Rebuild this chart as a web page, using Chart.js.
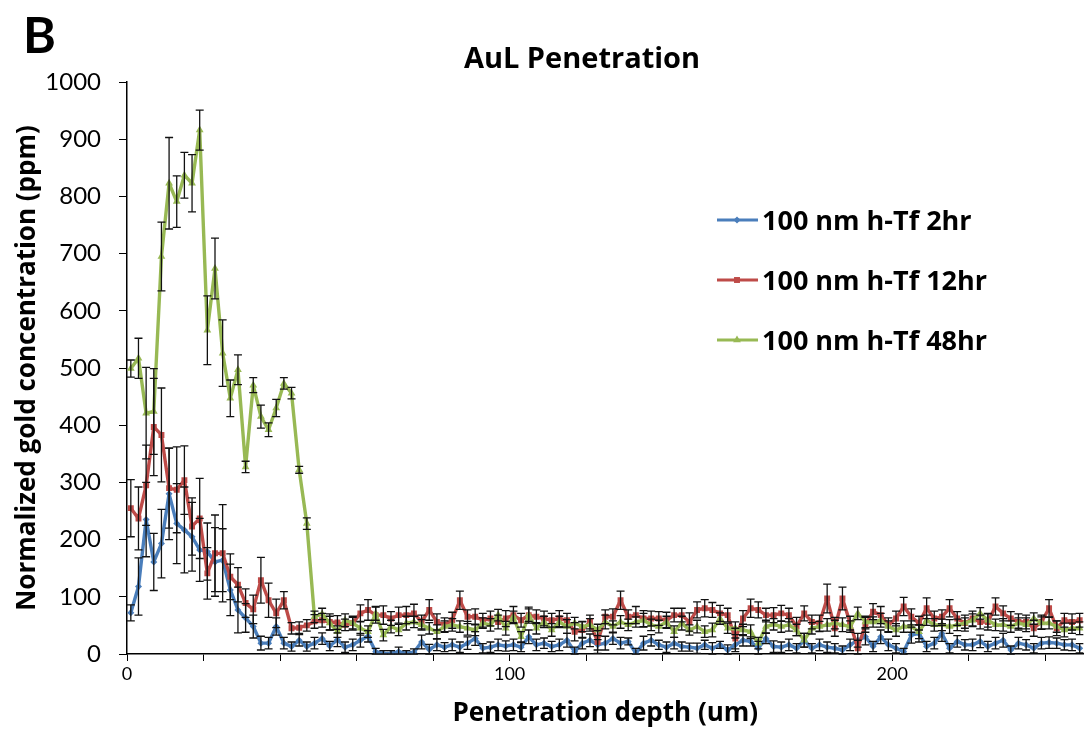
<!DOCTYPE html>
<html>
<head>
<meta charset="utf-8">
<title>AuL Penetration</title>
<script src="https://cdn.jsdelivr.net/npm/chart.js@4.4.0/dist/chart.umd.min.js"></script>
<style>
  body { margin: 0; background: #fff; }
  canvas { display: block; }
</style>
</head>
<body>
<canvas id="penetrationChart" width="1088" height="731"></canvas>
<script>
// depth of each 2 um slice (bin centre), um
const depth = [1,3,5,7,9,11,13,15,17,19,21,23,25,27,29,31,33,35,37,39,41,43,45,47,49,
  51,53,55,57,59,61,63,65,67,69,71,73,75,77,79,81,83,85,87,89,91,93,95,97,99,
  101,103,105,107,109,111,113,115,117,119,121,123,125,127,129,131,133,135,137,139,141,143,145,147,149,
  151,153,155,157,159,161,163,165,167,169,171,173,175,177,179,181,183,185,187,189,191,193,195,197,199,
  201,203,205,207,209,211,213,215,217,219,221,223,225,227,229,231,233,235,237,239,241,243,245,247,249];

const seriesLabels = ['100 nm h-Tf 2hr', '100 nm h-Tf 12hr', '100 nm h-Tf 48hr'];

// gold concentration (ppm)
const tf2hr = [72,118,235,161,193,280,228,217,205,182,179,161,164,112,77,63,48,19,19,48,19,13,24,13,19,
  27,14,25,12,16,24,31,4,1,1,4,1,3,21,8,16,12,16,12,19,27,10,12,16,14,
  16,12,30,16,19,13,16,24,4,19,24,16,19,27,19,22,1,19,24,16,12,19,13,12,10,
  16,10,16,7,16,24,22,10,27,13,12,16,10,24,10,16,12,10,7,16,24,30,13,30,16,
  10,4,33,36,13,19,36,10,22,16,16,22,13,19,24,7,19,16,10,19,20,19,16,16,10];

const tf12hr = [255,237,295,397,383,290,287,304,223,237,141,176,176,135,121,89,78,129,94,71,94,45,46,50,57,
  59,56,55,51,54,71,77,68,68,62,68,68,71,56,77,56,51,59,94,65,65,59,62,56,62,
  68,59,68,65,62,59,62,59,39,42,56,21,65,65,94,65,68,62,62,62,59,68,68,56,77,
  80,77,71,68,27,62,80,77,68,68,71,68,48,71,56,54,97,45,97,54,10,51,74,68,51,
  62,83,65,54,80,62,65,80,62,54,62,56,56,83,71,62,56,56,45,56,80,45,59,56,59];

const tf48hr = [499,517,421,424,695,823,791,837,823,916,566,674,526,447,497,327,470,415,392,430,473,456,322,228,65,
  70,54,39,59,54,45,39,71,33,48,42,54,56,51,45,39,48,51,48,45,42,54,51,68,45,
  65,30,68,45,56,42,56,48,54,48,51,42,56,48,56,51,56,59,51,48,56,39,54,42,48,
  39,42,62,45,45,42,39,19,48,52,48,51,42,24,45,48,51,54,51,48,71,56,56,59,48,
  42,48,48,39,59,51,51,48,51,54,59,71,59,51,51,48,54,51,62,54,54,48,42,45,45];

// error bar half-lengths (ppm)
const tf2hrErr = [14,50,65,50,60,80,70,75,60,55,50,60,55,45,40,25,20,12,10,15,10,8,10,8,10,
  10,8,12,9,10,12,10,6,5,5,8,5,6,12,9,10,8,10,9,11,12,8,9,10,9,
  10,8,12,10,9,9,10,12,8,10,11,9,12,10,10,6,9,12,10,8,9,10,8,7,9,
  8,10,6,9,12,10,8,12,9,10,9,10,8,12,8,10,9,8,7,10,12,14,9,12,10,
  8,6,14,15,9,10,14,8,10,9,10,11,9,10,12,7,10,9,8,10,10,9,9,10,8];

const tf12hrErr = [50,55,70,85,82,70,75,60,50,70,45,67,85,40,30,25,25,40,30,25,15,10,10,10,12,
  12,14,12,10,12,15,18,14,16,12,14,15,16,12,18,14,12,14,16,12,14,12,13,12,14,
  15,12,14,12,13,12,14,12,16,14,12,20,12,14,16,12,15,14,13,12,14,12,12,16,14,
  15,13,14,12,18,14,16,14,12,13,14,12,16,13,12,14,25,14,20,12,14,13,14,15,12,
  13,16,14,12,18,13,12,15,12,14,13,12,14,15,13,12,14,12,14,12,15,13,12,14,12];

const tf48hrErr = [15,35,80,75,60,80,45,40,50,35,60,53,58,32,26,10,13,20,12,15,10,10,6,10,10,
  10,12,10,11,10,12,10,12,10,11,10,12,10,9,10,12,10,11,10,12,10,9,11,10,12,
  10,9,11,10,10,11,10,12,10,9,11,10,12,10,11,10,9,12,10,11,10,10,12,9,11,
  10,12,10,9,11,10,12,10,11,10,10,11,10,12,10,9,11,10,12,10,11,10,9,12,10,
  11,10,10,12,9,11,10,12,10,9,11,10,12,10,11,10,9,12,10,11,10,10,12,9,11];

const xTickValues = [0,20,40,60,80,100,120,140,160,180,200,220,240];
const xTickLabels = [0,100,200];

const colors = ['#4A7EBB', '#BE4B48', '#98B954'];
const markers = ['rectRot', 'rect', 'triangle'];
const markerSize = [3.5, 4.2, 4.5];
const FONT = 'Lato, "Open Sans", sans-serif';
const BOLD_FONT = '"Open Sans", Lato, sans-serif';

function toPoints(vals) {
  return depth.map(function (d, i) { return { x: d, y: vals[i] }; });
}

const allValues = [tf2hr, tf12hr, tf48hr];
const allErrors = [tf2hrErr, tf12hrErr, tf48hrErr];

// error bars drawn through the chart scales
const errorBars = {
  id: 'errorBars',
  afterDatasetsDraw(chart) {
    const ctx = chart.ctx;
    const yScale = chart.scales.y;
    const area = chart.chartArea;
    ctx.save();
    ctx.beginPath();
    ctx.rect(area.left, 0, area.right - area.left, chart.height);
    ctx.clip();
    ctx.strokeStyle = '#111';
    ctx.lineWidth = 1.3;
    allErrors.forEach(function (errs, d) {
      const meta = chart.getDatasetMeta(d);
      meta.data.forEach(function (pt, i) {
        const v = allValues[d][i];
        const top = yScale.getPixelForValue(v + errs[i]);
        const bot = yScale.getPixelForValue(Math.max(0, v - errs[i]));
        ctx.beginPath();
        ctx.moveTo(pt.x, top); ctx.lineTo(pt.x, bot);
        ctx.moveTo(pt.x - 4, top); ctx.lineTo(pt.x + 4, top);
        ctx.moveTo(pt.x - 4, bot); ctx.lineTo(pt.x + 4, bot);
        ctx.stroke();
      });
    });
    ctx.restore();
  }
};

function drawMarker(ctx, style, x, y, r) {
  ctx.beginPath();
  if (style === 'rectRot') {
    ctx.moveTo(x, y - r); ctx.lineTo(x + r, y); ctx.lineTo(x, y + r); ctx.lineTo(x - r, y);
  } else if (style === 'rect') {
    const s = r * Math.SQRT1_2;
    ctx.rect(x - s, y - s, 2 * s, 2 * s);
  } else {
    ctx.moveTo(x, y - r); ctx.lineTo(x + r * 0.87, y + r / 2); ctx.lineTo(x - r * 0.87, y + r / 2);
  }
  ctx.closePath();
  ctx.fill();
}

// panel letter, title and the legend sitting inside the plot
const decorations = {
  id: 'decorations',
  afterDraw(chart) {
    const ctx = chart.ctx;
    ctx.save();
    ctx.fillStyle = '#000';
    ctx.textBaseline = 'alphabetic';
    ctx.textAlign = 'left';
    ctx.font = 'bold 50px ' + FONT;
    ctx.fillText('B', 23, 53);
    ctx.textAlign = 'center';
    ctx.font = 'bold 29px ' + BOLD_FONT;
    ctx.fillText('AuL Penetration', 582, 68);

    const legendY = [220, 280, 340];
    seriesLabels.forEach(function (label, i) {
      const y = legendY[i];
      ctx.strokeStyle = colors[i];
      ctx.lineWidth = 3;
      ctx.beginPath();
      ctx.moveTo(717, y); ctx.lineTo(758, y);
      ctx.stroke();
      ctx.fillStyle = colors[i];
      drawMarker(ctx, markers[i], 737, y, markerSize[i]);
      ctx.fillStyle = '#000';
      ctx.textAlign = 'left';
      ctx.font = 'bold 27px ' + BOLD_FONT;
      ctx.fillText(label, 762, y + 10);
    });
    ctx.restore();
  }
};

const datasets = allValues.map(function (vals, i) {
  return {
    label: seriesLabels[i],
    data: toPoints(vals),
    borderColor: colors[i],
    backgroundColor: colors[i],
    borderWidth: 3.4,
    borderJoinStyle: 'round',
    pointStyle: markers[i],
    pointRadius: markerSize[i],
    pointBorderWidth: 0,
    pointBackgroundColor: colors[i],
    tension: 0,
    order: 2 - i
  };
});

new Chart(document.getElementById('penetrationChart'), {
  type: 'line',
  data: { datasets: datasets },
  options: {
    responsive: false,
    animation: false,
    devicePixelRatio: 1,
    layout: { padding: { top: 82, left: 0, right: 0, bottom: 0 } },
    plugins: {
      legend: { display: false },
      tooltip: { enabled: false },
      title: { display: false }
    },
    scales: {
      x: {
        type: 'linear',
        min: 0,
        max: 250,
        afterBuildTicks: function (s) { s.ticks = xTickValues.map(function (v) { return { value: v }; }); },
        afterFit: function (s) { s.height = 77; },
        grid: { drawOnChartArea: false, color: '#000', tickLength: 7, lineWidth: 1 },
        border: { color: '#000', width: 1.5 },
        ticks: {
          autoSkip: false,
          maxRotation: 0,
          padding: 2,
          color: '#000',
          font: { family: FONT, size: 18 },
          callback: function (v) { return xTickLabels.includes(v) ? String(v) : ''; }
        },
        title: {
          display: true,
          text: 'Penetration depth (um)',
          color: '#000',
          font: { family: BOLD_FONT, size: 26, weight: 'bold' },
          padding: { top: 0, bottom: 2 }
        }
      },
      y: {
        min: 0,
        max: 1000,
        afterFit: function (s) { s.width = 127; },
        grid: { drawOnChartArea: false, color: '#000', tickLength: 8, lineWidth: 1 },
        border: { color: '#000', width: 1.5 },
        ticks: {
          stepSize: 100,
          padding: 18,
          color: '#000',
          font: { family: FONT, size: 24 },
          callback: function (v) { return String(v); }
        },
        title: {
          display: true,
          text: 'Normalized gold concentration (ppm)',
          color: '#000',
          font: { family: BOLD_FONT, size: 26, weight: 'bold' },
          padding: { top: 12, bottom: 0 }
        }
      }
    }
  },
  plugins: [errorBars, decorations]
});
</script>
</body>
</html>
